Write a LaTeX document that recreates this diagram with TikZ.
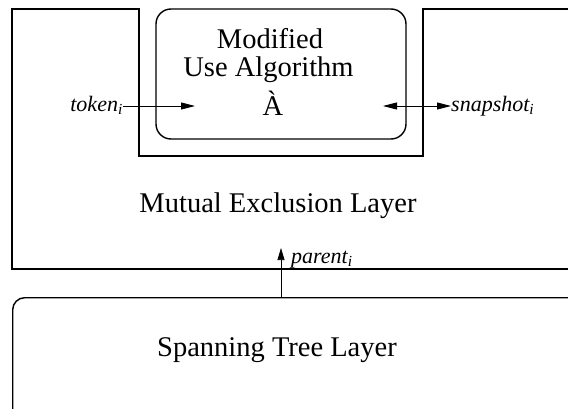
\documentclass[tikz,border=0pt]{standalone}
\usepackage{fontspec}
\setmainfont{Liberation Serif}
\usetikzlibrary{arrows.meta}
\tikzset{
  layer/.style={draw, line width=1.4pt},
  bigtext/.style={font=\fontsize{28.5}{29}\selectfont, inner sep=0pt, anchor=base},
  sig/.style={font=\fontsize{22}{24}\selectfont\itshape, inner sep=0pt, anchor=base},
  flow/.style={line width=0.9pt, -{Triangle[length=14pt,width=7pt]}},
  flowboth/.style={line width=0.9pt, {Triangle[length=14pt,width=7pt]}-{Triangle[length=14pt,width=7pt]}},
  up/.style={line width=0.7pt, -{Triangle[length=12pt,width=7pt]}}
}
\begin{document}
\begin{tikzpicture}[x=1pt,y=1pt]
\useasboundingbox (0,0) rectangle (568,408);
\clip (0,0) rectangle (568,408);

% mutual exclusion layer, with a notch for the algorithm
\draw[layer] (600,399) -- (423,399) -- (423,252) -- (139,252) -- (139,399)
  -- (12,399) -- (12,139) -- (600,139);
\coordinate (mexbot) at (281,160);

% modified algorithm box
\node[layer, rounded corners=15pt, minimum width=250pt, minimum height=130pt, inner sep=0pt]
  (alg) at (281,334) {};
\node[bigtext] (algname1) at (270,359.5) {Modified};
\node[bigtext] (algname2) at (268.5,331.3) {Use Algorithm};
\node[bigtext] (alpha) at (273,293) {À};
\coordinate (tokin) at (195,302);
\coordinate (snapin) at (383,302);

% spanning tree layer
\node[layer, rounded corners=12pt, minimum width=600pt, minimum height=140pt, inner sep=0pt,
  anchor=north west] (st) at (12,111) {};
\node[bigtext] (stname) at (277,52) {Spanning Tree Layer};
\node[bigtext] (mexname) at (278,196) {Mutual Exclusion Layer};

% signals
\node[sig, anchor=base east] (token) at (123,297) {token\textsubscript{\textit{i}}};
\node[sig, anchor=base west] (snap) at (451,296.5) {snapshot\textsubscript{\textit{i}}};
\node[sig, anchor=base west] (parent) at (291,145) {parent\textsubscript{\textit{i}}};

\draw[flow] (token.east |- tokin) -- (tokin);
\draw[flowboth] (snapin) -- (snap.west |- snapin);
\draw[up] (st.north -| mexbot) -- (mexbot);
\end{tikzpicture}
\end{document}
